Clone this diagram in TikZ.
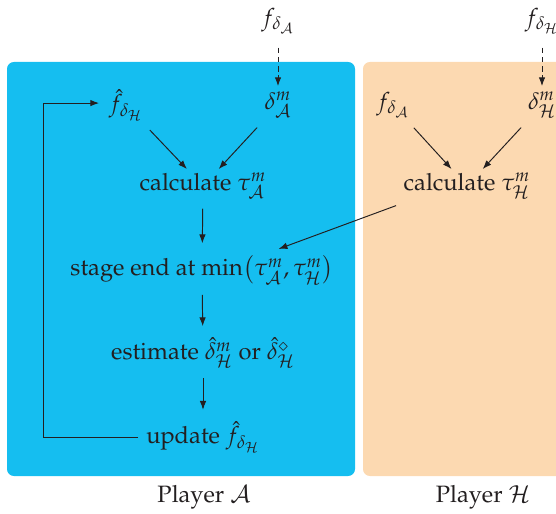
\documentclass[tikz,border=0pt]{standalone}
\usepackage[T1]{fontenc}
\usepackage{mathpazo}
\usetikzlibrary{arrows.meta}
\definecolor{playerA}{RGB}{21,190,240}
\definecolor{playerH}{RGB}{252,217,177}
\definecolor{ink}{RGB}{35,31,32}
\begin{document}
\begin{tikzpicture}[
x=0.52pt,y=-0.52pt,
every node/.style={inner sep=2pt,text=ink,font=\fontsize{12.3pt}{15pt}\selectfont},
flow/.style={draw=ink,line width=0.5pt,-{Latex[length=4.6pt,width=3.4pt]}},
given/.style={flow,dash pattern=on 2.8pt off 2pt},
playerbox/.style={rounded corners=3.6pt}
]
\useasboundingbox (0,0) rectangle (556,514);
\clip (0,0) rectangle (556,514);
\fill[playerA,playerbox] (7,62) rectangle (355,476);
\fill[playerH,playerbox] (363,62) rectangle (640,476);
% player A
\node (1) at (278,21) {$f_{\delta_{\mathcal A}}$};
\node (2) at (278,105) {$\delta^m_{\mathcal A}$};
\node (3) at (126,105) {$\hat f_{\delta_{\mathcal H}}$};
\node (4) at (203,186) {calculate $\tau^m_{\mathcal A}$};
\node (5) at (202,270) {stage end at $\min\bigl(\tau^m_{\mathcal A},\tau^m_{\mathcal H}\bigr)$};
\node (6) at (203,353) {estimate $\hat\delta^m_{\mathcal H}$ or $\hat\delta^\diamond_{\mathcal H}$};
\node (7) at (203,437) {update $\hat f_{\delta_{\mathcal H}}$};
\node (8) at (204,497) {Player $\mathcal A$};
% player H
\node (9) at (542,21) {$f_{\delta_{\mathcal H}}$};
\node (10) at (542,105) {$\delta^m_{\mathcal H}$};
\node (11) at (393,105) {$f_{\delta_{\mathcal A}}$};
\node (12) at (467,186) {calculate $\tau^m_{\mathcal H}$};
\node (13) at (483,497) {Player $\mathcal H$};
\coordinate (loop) at (43,0);
\draw[given,shorten <=5pt,shorten >=1pt] (1) -- (2);
\draw[given,shorten <=5pt,shorten >=1pt] (9) -- (10);
\draw[flow,shorten <=4pt] (3) -- (4);
\draw[flow,shorten <=4pt] (2) -- (4);
\draw[flow,shorten <=4pt] (11) -- (12);
\draw[flow,shorten <=4pt] (10) -- (12);
\draw[flow,shorten <=3pt,shorten >=4pt] (4) -- (5);
\draw[flow,shorten <=4pt,shorten >=3pt] ([xshift=2pt]12.south west) -- ([xshift=37pt]5.north);
\draw[flow,shorten <=3pt,shorten >=4pt] (5) -- (6);
\draw[flow,shorten <=3pt,shorten >=4pt] (6) -- (7);
\draw[flow,shorten <=2pt,shorten >=3pt] (7.west) -- (7.west -| loop) |- ([yshift=1pt]3.west);
\end{tikzpicture}
\end{document}
